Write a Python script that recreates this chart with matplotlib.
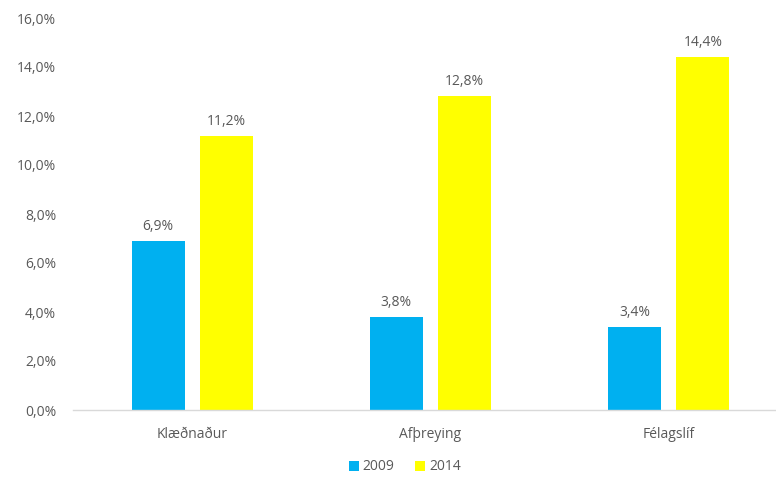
import matplotlib
matplotlib.use("Agg")
import matplotlib.pyplot as plt
import numpy as np

categories = ["Klæðnaður", "Afþreying", "Félagslíf"]
series_names = ["2009", "2014"]
values_2009 = [6.9, 3.8, 3.4]
values_2014 = [11.2, 12.8, 14.4]
colors = ["#00B0F0", "#FFFF00"]
yticks = [0, 2, 4, 6, 8, 10, 12, 14, 16]

plt.rcParams['font.family'] = ['Open Sans', 'DejaVu Sans']
text_color = "#595959"

fig = plt.figure(figsize=(7.76, 4.79), dpi=100)
W, H = 776, 479
left, right = 73, 788
bottom, top = 410, 18
ax = fig.add_axes([left / W, (H - bottom) / H, (right - left) / W, (bottom - top) / H])

x = np.arange(len(categories))
bw = 0.222
off = 0.143
b1 = ax.bar(x - off, values_2009, bw, color=colors[0], label=series_names[0])
b2 = ax.bar(x + off, values_2014, bw, color=colors[1], label=series_names[1])

def fmt(v):
    return f"{v:.1f}%".replace(".", ",")

for bars, vals in ((b1, values_2009), (b2, values_2014)):
    for rect, v in zip(bars, vals):
        ax.annotate(fmt(v), (rect.get_x() + rect.get_width() / 2, v),
                    xytext=(0, 5), textcoords="offset points",
                    ha="center", va="bottom", fontsize=10, color=text_color)

ax.set_xlim(-0.5, 2.5)
ax.set_ylim(0, 16)
ax.set_yticks(yticks)
ax.set_yticklabels([fmt(t) for t in yticks], fontsize=10, color=text_color)
ax.set_xticks(x)
ax.set_xticklabels(categories, fontsize=10, color=text_color)
ax.tick_params(axis="both", length=0)
ax.tick_params(axis="y", pad=12)
ax.tick_params(axis="x", pad=12)
for s in ["top", "right", "left"]:
    ax.spines[s].set_visible(False)
ax.spines["bottom"].set_color("#D9D9D9")
ax.spines["bottom"].set_linewidth(1)

fig.legend(handles=[b1, b2], labels=series_names, loc="center",
           bbox_to_anchor=(405 / W, (H - 467) / H), ncol=2, frameon=False,
           fontsize=10, labelcolor=text_color, handlelength=0.7, handleheight=0.7,
           handletextpad=0.3, columnspacing=1.5)

fig.savefig("out.png", dpi=100)
